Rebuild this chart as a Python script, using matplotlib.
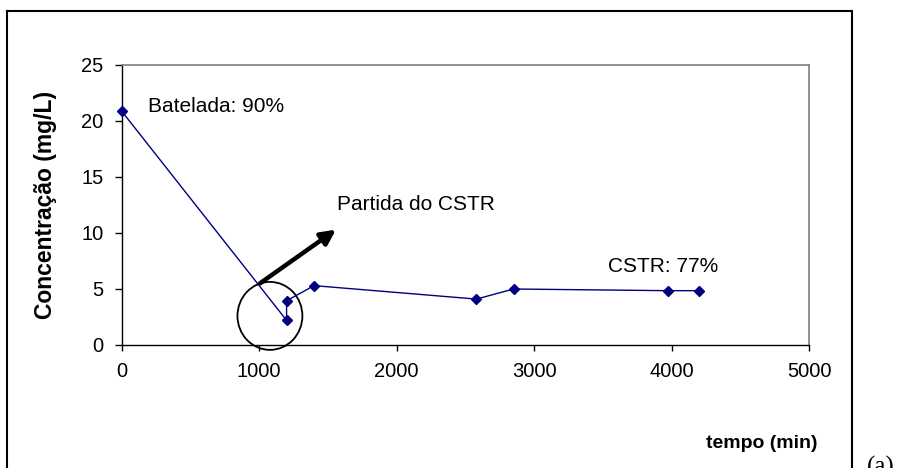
import matplotlib
matplotlib.use("Agg")
import matplotlib.pyplot as plt
from matplotlib.patches import Ellipse
from matplotlib.lines import Line2D

# Data
tempo = [0, 1200, 1200, 1400, 2580, 2850, 3970, 4200]
conc = [20.9, 2.2, 3.95, 5.3, 4.1, 5.0, 4.85, 4.85]
xticks = [0, 1000, 2000, 3000, 4000, 5000]
yticks = [0, 5, 10, 15, 20, 25]

plt.rcParams['font.family'] = ['Liberation Sans', 'DejaVu Sans']

W, H = 908, 468
fig = plt.figure(figsize=(W / 100, H / 100), dpi=100)

def fx(px):
    return px / W

def fy(py):
    return 1 - py / H

x0, x1 = 121.5, 809.3
y0, y1 = 345, 65
ax = fig.add_axes([fx(x0), fy(y0), (x1 - x0) / W, (y0 - y1) / H])

ax.plot(tempo, conc, color='#000080', lw=1.0, marker='D', markersize=5,
        markerfacecolor='#000080', markeredgecolor='#000080', clip_on=False,
        zorder=5)

ax.set_xlim(0, 5000)
ax.set_ylim(0, 25)
ax.set_xticks(xticks)
ax.set_yticks(yticks)
ax.tick_params(axis='both', labelsize=14.5, direction='out', color='black', width=1)
ax.tick_params(axis='x', length=4, pad=8)
ax.tick_params(axis='y', length=5, pad=8)
for s in ['top', 'right']:
    ax.spines[s].set_color('#808080')
    ax.spines[s].set_linewidth(1.2)
for s in ['left', 'bottom']:
    ax.spines[s].set_color('black')
    ax.spines[s].set_linewidth(1.0)

# annotations
ax.text(190, 21.3, 'Batelada: 90%', fontsize=15, ha='left', va='center')
ax.text(1565, 12.5, 'Partida do CSTR', fontsize=15, ha='left', va='center')
ax.text(3540, 7.0, 'CSTR: 77%', fontsize=15, ha='left', va='center')

ax.annotate('', xy=(1559, 10.3), xytext=(1006, 5.5),
            arrowprops=dict(arrowstyle='-|>', lw=3.2, color='black',
                            mutation_scale=22, shrinkA=0, shrinkB=0),
            annotation_clip=False)

circ = Ellipse((1079, 2.6), width=472, height=6.07, fill=False,
               edgecolor='black', lw=1.3, clip_on=False)
ax.add_patch(circ)

# axis labels
fig.text(fx(46), fy(205), 'Concentração (mg/L)', rotation=90, fontsize=16.5,
         fontweight='bold', ha='center', va='center')
fig.text(fx(762), fy(443), 'tempo (min)', fontsize=14, fontweight='bold',
         ha='center', va='center')

# outer frame (bottom edge outside the picture)
frame_kw = dict(color='black', lw=1.5, transform=fig.transFigure)
fig.add_artist(Line2D([fx(7), fx(852)], [fy(11), fy(11)], **frame_kw))
fig.add_artist(Line2D([fx(7), fx(7)], [fy(11), 0], **frame_kw))
fig.add_artist(Line2D([fx(852), fx(852)], [fy(11), 0], **frame_kw))

fig.text(fx(867), fy(456), '(a)', fontsize=18, family='Liberation Serif',
         ha='left', va='top')

fig.savefig('out.png', dpi=100)
